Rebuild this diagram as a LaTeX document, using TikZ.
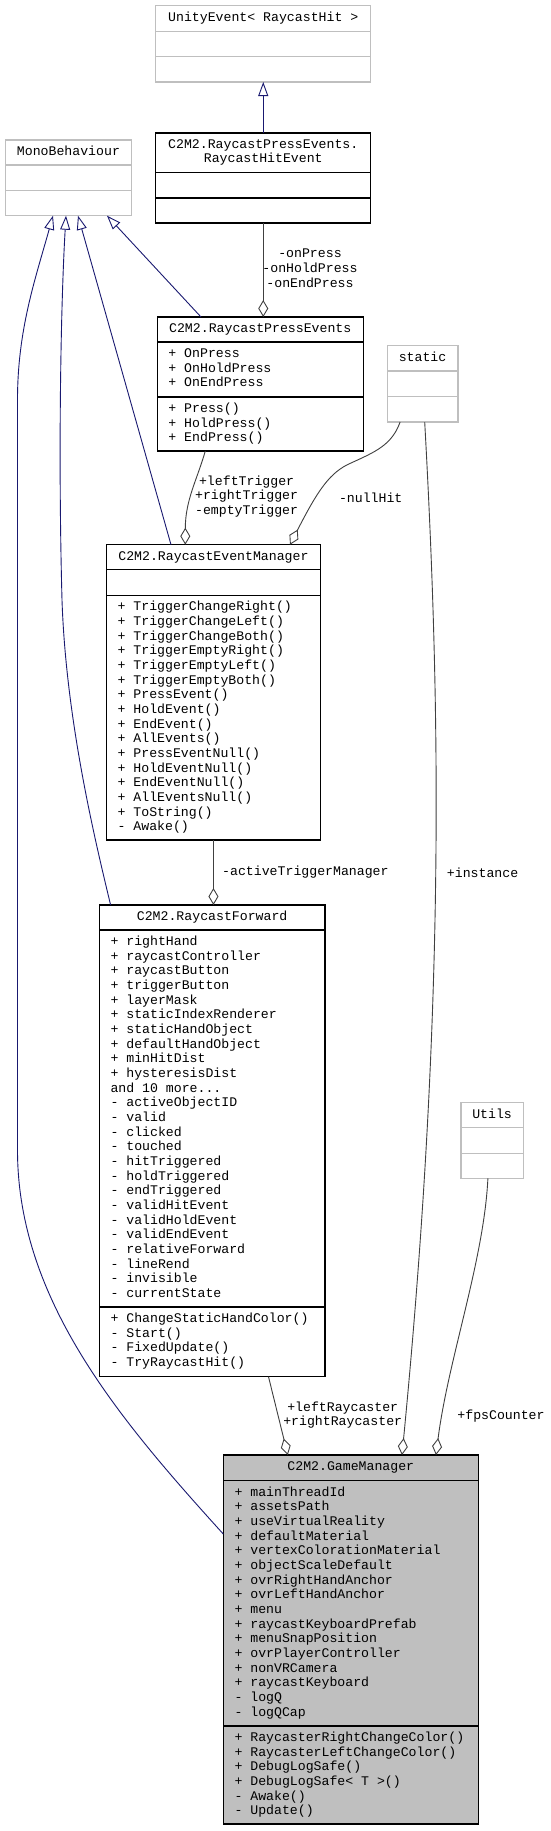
\documentclass[tikz,border=0pt]{standalone}
\usepackage{fontspec}
\newfontfamily\dfont{Liberation Mono}
\usetikzlibrary{arrows.meta}
\definecolor{navyline}{HTML}{191970}
\definecolor{edgegray}{HTML}{404040}
\definecolor{boxgray}{HTML}{BFBFBF}
\newcommand\threedots{...}
\tikzset{
  blackbox/.style={draw=black, line width=1.2pt, inner sep=0pt, outer sep=0pt, anchor=north west},
  greybox/.style={draw=boxgray, line width=1.2pt, inner sep=0pt, outer sep=0pt, anchor=north west},
  memtext/.style={font=\dfont\fontsize{13.2}{14.67}\selectfont, inner sep=0pt, anchor=base west},
  titletext/.style={font=\dfont\fontsize{13.2}{14.67}\selectfont, inner sep=0pt, anchor=base},
  edgelabel/.style={font=\dfont\fontsize{13.2}{14.67}\selectfont, inner sep=0pt, align=center},
  inherit/.style={draw=navyline, line width=0.9pt, -{Triangle[open,length=14pt,width=10pt]}},
  aggreg/.style={draw=edgegray, line width=0.9pt, -{Diamond[open,length=17pt,width=10pt]}},
}
\newcommand\twoseps[4]{%
  \draw[draw=#4, line width=1.2pt] ([yshift=-#2pt]#1.north west) -- ([yshift=-#2pt]#1.north east);
  \draw[draw=#4, line width=1.2pt] ([yshift=-#3pt]#1.north west) -- ([yshift=-#3pt]#1.north east);}
\newcommand\memberlines[4]{%
  \foreach \t [count=\i] in {#4} {
    \node[memtext] (#1\i) at ({#2},{#3+14.67*(\i-1)}) {\t};
  }}
\begin{document}
\begin{tikzpicture}[x=1pt,y=-1pt]
\fill[white] (0,0) rectangle (551,1831);
\useasboundingbox (0,0) rectangle (551,1831);

% ---------- classes ----------
% UnityEvent
\node[greybox, minimum width=214.9pt, minimum height=76.3pt] (ue) at (155.8,5.7) {};
\twoseps{ue}{25.6}{51}{boxgray}
\node[titletext] (ueT) at (263.25,21.5) {UnityEvent< RaycastHit >};

% RaycastHitEvent
\node[blackbox, minimum width=214.9pt, minimum height=90pt] (hit) at (155.8,133) {};
\twoseps{hit}{39.7}{65}{black}
\node[titletext] (hitT1) at (263.25,148.5) {C2M2.RaycastPressEvents.};
\node[titletext] (hitT2) at (263.25,162.5) {RaycastHitEvent};

% MonoBehaviour
\node[greybox, minimum width=126.3pt, minimum height=75.7pt] (mb) at (5.3,140) {};
\twoseps{mb}{25}{50.3}{boxgray}
\node[titletext] (mbT) at (68.45,155.5) {MonoBehaviour};

% RaycastPressEvents
\node[blackbox, minimum width=206.1pt, minimum height=134pt] (pe) at (157.2,317) {};
\twoseps{pe}{25}{80}{black}
\node[titletext] (peT) at (260.25,332.5) {C2M2.RaycastPressEvents};
\memberlines{pea}{168.2}{357.5}{+ OnPress,+ OnHoldPress,+ OnEndPress}
\memberlines{pem}{168.2}{412.5}{+ Press(),+ HoldPress(),+ EndPress()}

% static
\node[greybox, minimum width=70.9pt, minimum height=76.3pt] (st) at (387.1,345.7) {};
\twoseps{st}{25.3}{51}{boxgray}
\node[titletext] (stT) at (422.55,361.3) {static};

% RaycastEventManager
\node[blackbox, minimum width=214.1pt, minimum height=295.3pt] (em) at (106.4,544.7) {};
\twoseps{em}{24.6}{50.6}{black}
\node[titletext] (emT) at (213.45,560) {C2M2.RaycastEventManager};
\memberlines{emm}{117.4}{610.8}{+ TriggerChangeRight(),+ TriggerChangeLeft(),+ TriggerChangeBoth(),+ TriggerEmptyRight(),+ TriggerEmptyLeft(),+ TriggerEmptyBoth(),+ PressEvent(),+ HoldEvent(),+ EndEvent(),+ AllEvents(),+ PressEventNull(),+ HoldEventNull(),+ EndEventNull(),+ AllEventsNull(),+ ToString(),- Awake()}

% RaycastForward
\node[blackbox, minimum width=225.7pt, minimum height=471.7pt] (rf) at (99.3,905) {};
\twoseps{rf}{25}{402}{black}
\node[titletext] (rfT) at (212.15,920.2) {C2M2.RaycastForward};
\memberlines{rfa}{110.3}{945.5}{+ rightHand,+ raycastController,+ raycastButton,+ triggerButton,+ layerMask,+ staticIndexRenderer,+ staticHandObject,+ defaultHandObject,+ minHitDist,+ hysteresisDist,and 10 more\threedots,- activeObjectID,- valid,- clicked,- touched,- hitTriggered,- holdTriggered,- endTriggered,- validHitEvent,- validHoldEvent,- validEndEvent,- relativeForward,- lineRend,- invisible,- currentState}
\memberlines{rfm}{110.3}{1322.5}{+ ChangeStaticHandColor(),- Start(),- FixedUpdate(),- TryRaycastHit()}

% Utils
\node[greybox, minimum width=62.4pt, minimum height=75.6pt] (ut) at (460.9,1102.7) {};
\twoseps{ut}{25}{50.6}{boxgray}
\node[titletext] (utT) at (492.1,1118.2) {Utils};

% GameManager
\node[blackbox, fill=boxgray, minimum width=255pt, minimum height=369pt] (gm) at (223.3,1455) {};
\twoseps{gm}{25.7}{271}{black}
\node[titletext] (gmT) at (350.8,1470.8) {C2M2.GameManager};
\memberlines{gma}{234.3}{1496.2}{+ mainThreadId,+ assetsPath,+ useVirtualReality,+ defaultMaterial,+ vertexColorationMaterial,+ objectScaleDefault,+ ovrRightHandAnchor,+ ovrLeftHandAnchor,+ menu,+ raycastKeyboardPrefab,+ menuSnapPosition,+ ovrPlayerController,+ nonVRCamera,+ raycastKeyboard,- logQ,- logQCap}
\memberlines{gmm}{234.3}{1741.5}{+ RaycasterRightChangeColor(),+ RaycasterLeftChangeColor(),+ DebugLogSafe(),+ DebugLogSafe< T >(),- Awake(),- Update()}

% ---------- inheritance ----------
\draw[inherit] (hit.north) -- (ue.south);
\draw[inherit] ([xshift=43.8pt]pe.north west) -- ([xshift=101.7pt]mb.south west);
\draw[inherit] ([xshift=64.6pt]em.north west) -- ([xshift=72.7pt]mb.south west);
\draw[inherit] ([xshift=11.3pt]rf.north west) .. controls (95,840) and (66,720) .. (62,600)
   .. controls (58,450) and (61,300) .. ([xshift=60.7pt]mb.south west);
\draw[inherit] ([yshift=-79pt]gm.north west) .. controls (120,1420) and (17.5,1300) .. (17.5,1150)
   -- (17.5,400) .. controls (17.5,330) and (35,280) .. ([xshift=47.7pt]mb.south west);

% ---------- aggregation ----------
\draw[aggreg] (hit.south) -- (hit.south |- pe.north);
\draw[aggreg] ([xshift=48.1pt]pe.south west) .. controls (197,480) and (185.3,500) .. ([xshift=78.9pt]em.north west);
\draw[aggreg] ([xshift=13pt]st.south west) .. controls (392,445) and (375,452) .. (351,463)
   .. controls (330,472) and (318,490) .. ([xshift=183.6pt]em.north west);
\draw[aggreg] (em.south) -- (em.south |- rf.north);
\draw[aggreg] ([xshift=37.6pt]st.south west) .. controls (440,700) and (446,1000) .. ([xshift=178.7pt]gm.north west);
\draw[aggreg] ([xshift=27pt]ut.south west) .. controls (484,1260) and (448,1360) .. ([xshift=212.7pt]gm.north west);
\draw[aggreg] ([xshift=169.2pt]rf.south west) -- ([xshift=64.5pt]gm.north west);

% ---------- labels ----------
\node[edgelabel] (lbOn) at (310,268.3) {-onPress\\-onHoldPress\\-onEndPress};
\node[edgelabel] (lbTrig) at (246.6,496.3) {+leftTrigger\\+rightTrigger\\-emptyTrigger};
\node[edgelabel] (lbNull) at (370.7,497.3) {-nullHit};
\node[edgelabel] (lbAtm) at (305.4,872.3) {-activeTriggerManager};
\node[edgelabel] (lbInst) at (482.6,872.3) {+instance};
\node[edgelabel] (lbRay) at (342.7,1415) {+leftRaycaster\\+rightRaycaster};
\node[edgelabel] (lbFps) at (501,1415.7) {+fpsCounter};
\end{tikzpicture}
\end{document}
